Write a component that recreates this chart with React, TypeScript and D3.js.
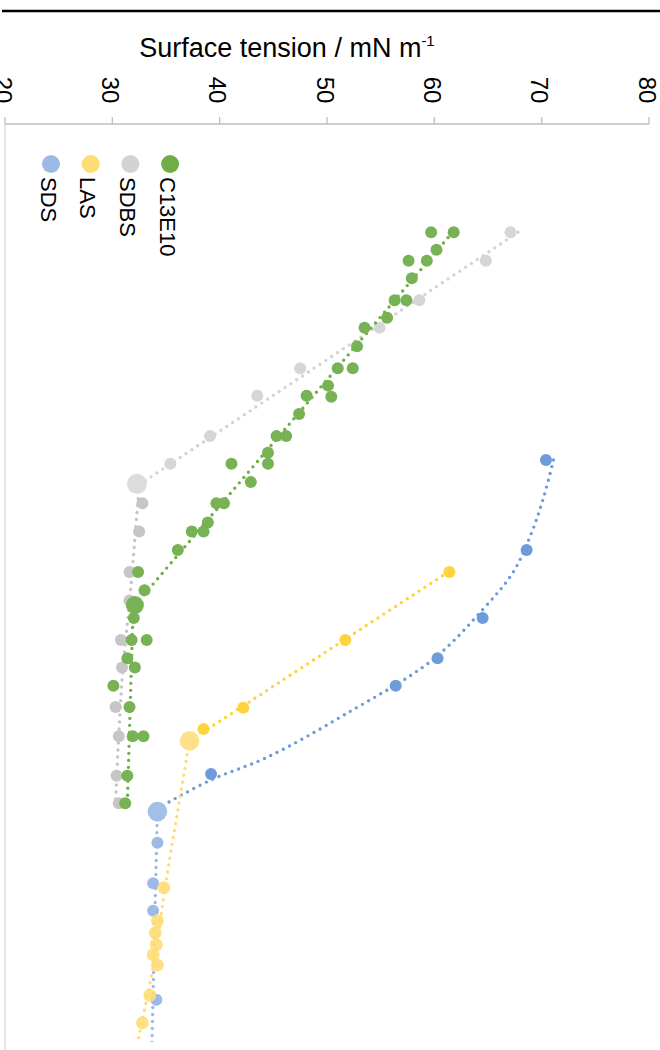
import React from "react";
import * as d3 from "d3";

// Surface tension (mN/m) vs relative log-concentration position (0-100, page downwards)
type P = { u: number; t: number };

const tensionTicks = [20, 30, 40, 50, 60, 70, 80];
const legendNames = ["SDS", "LAS", "SDBS", "C13E10"];
const legendColors = ["#9DBAE6", "#FFDD75", "#D3D3D3", "#70AD47"];

// SDS
const sdsBelow: P[] = [
  { u: 36.6, t: 70.4 }, { u: 46.4, t: 68.6 }, { u: 53.8, t: 64.5 },
  { u: 58.2, t: 60.3 }, { u: 61.2, t: 56.4 }, { u: 70.8, t: 39.2 },
];
const sdsCmc: P[] = [{ u: 74.9, t: 34.2 }];
const sdsAbove: P[] = [
  { u: 78.3, t: 34.2 }, { u: 82.7, t: 33.8 }, { u: 85.7, t: 33.8 }, { u: 95.4, t: 34.1 },
];
const sdsFitBelow: P[] = [
  { u: 36.6, t: 71.1 }, { u: 41.0, t: 70.1 }, { u: 45.0, t: 68.9 }, { u: 48.9, t: 67.3 },
  { u: 52.9, t: 64.5 }, { u: 58.4, t: 59.8 }, { u: 64.3, t: 51.7 }, { u: 69.0, t: 44.4 },
  { u: 71.5, t: 39.1 }, { u: 74.5, t: 34.3 },
];
const sdsFitAbove: P[] = [
  { u: 74.9, t: 34.2 }, { u: 88.9, t: 33.9 }, { u: 99.8, t: 33.7 }, { u: 104, t: 33.6 },
];

// LAS
const lasBelow: P[] = [
  { u: 48.8, t: 61.4 }, { u: 56.2, t: 51.7 }, { u: 63.6, t: 42.2 }, { u: 65.9, t: 38.5 },
];
const lasCmc: P[] = [{ u: 67.2, t: 37.2 }];
const lasAbove: P[] = [
  { u: 83.2, t: 34.8 }, { u: 86.8, t: 34.2 }, { u: 88.1, t: 34.0 }, { u: 89.4, t: 34.1 },
  { u: 90.5, t: 33.8 }, { u: 91.6, t: 34.2 }, { u: 94.9, t: 33.5 }, { u: 97.9, t: 32.8 },
];
const lasFitBelow: P[] = [{ u: 48.8, t: 61.3 }, { u: 67.2, t: 37.2 }];
const lasFitAbove: P[] = [
  { u: 67.2, t: 37.2 }, { u: 74.1, t: 36.2 }, { u: 81.8, t: 35.1 }, { u: 91.8, t: 33.8 },
  { u: 99.8, t: 32.4 }, { u: 104, t: 31.7 },
];

// SDBS
const sdbsBelow: P[] = [
  { u: 11.8, t: 67.1 }, { u: 14.9, t: 64.8 }, { u: 19.2, t: 58.6 }, { u: 22.2, t: 54.9 },
  { u: 26.6, t: 47.5 }, { u: 29.6, t: 43.5 }, { u: 34.0, t: 39.1 }, { u: 37.0, t: 35.4 },
];
const sdbsCmc: P[] = [{ u: 39.2, t: 32.3 }];
const sdbsAbove: P[] = [
  { u: 41.3, t: 32.8 }, { u: 44.4, t: 32.5 }, { u: 48.8, t: 31.6 }, { u: 51.9, t: 31.6 },
  { u: 56.2, t: 30.8 }, { u: 59.2, t: 30.9 }, { u: 63.5, t: 30.3 }, { u: 66.7, t: 30.6 },
  { u: 71.0, t: 30.4 }, { u: 74.0, t: 30.6 },
];
const sdbsFitBelow: P[] = [{ u: 11.8, t: 67.8 }, { u: 39.3, t: 32.5 }];
const sdbsFitAbove: P[] = [
  { u: 39.3, t: 32.5 }, { u: 50.8, t: 31.7 }, { u: 60.6, t: 30.9 }, { u: 74.0, t: 30.3 },
];

// C13E10
const c13Below: P[] = [
  { u: 11.8, t: 59.7 }, { u: 11.8, t: 61.8 }, { u: 13.7, t: 60.2 }, { u: 14.9, t: 57.6 },
  { u: 14.9, t: 59.3 }, { u: 16.8, t: 57.9 }, { u: 19.2, t: 56.3 }, { u: 19.2, t: 57.4 },
  { u: 21.1, t: 55.6 }, { u: 22.2, t: 53.5 }, { u: 24.2, t: 52.8 }, { u: 26.6, t: 51.0 },
  { u: 26.6, t: 52.4 }, { u: 28.5, t: 50.1 }, { u: 29.7, t: 50.4 }, { u: 29.6, t: 48.1 },
  { u: 31.6, t: 47.4 }, { u: 34.0, t: 45.3 }, { u: 34.0, t: 46.2 }, { u: 35.8, t: 44.5 },
  { u: 37.0, t: 44.5 }, { u: 37.0, t: 41.1 }, { u: 39.0, t: 42.9 }, { u: 41.3, t: 39.7 },
  { u: 41.3, t: 40.4 }, { u: 43.4, t: 38.9 }, { u: 44.4, t: 37.4 }, { u: 44.4, t: 38.5 },
  { u: 46.4, t: 36.1 }, { u: 48.8, t: 32.4 }, { u: 50.8, t: 33.0 },
];
const c13Cmc: P[] = [{ u: 52.4, t: 32.1 }];
const c13Above: P[] = [
  { u: 53.8, t: 32.0 }, { u: 56.2, t: 31.8 }, { u: 56.2, t: 33.2 }, { u: 58.2, t: 31.4 },
  { u: 59.2, t: 32.1 }, { u: 61.2, t: 30.1 }, { u: 63.5, t: 31.6 }, { u: 66.7, t: 31.9 },
  { u: 66.7, t: 32.9 }, { u: 71.0, t: 31.4 }, { u: 74.0, t: 31.2 },
];
const c13FitBelow: P[] = [{ u: 11.8, t: 61.7 }, { u: 51.9, t: 32.5 }];
const c13FitAbove: P[] = [{ u: 51.9, t: 32.5 }, { u: 54.0, t: 31.9 }, { u: 74.0, t: 31.4 }];

const W = 660;
const H = 1050;
const plotTop = 124;
const plotBottom = 1042;
const plotLeft = 5;
const plotRight = 649;

export default function App() {
  const x = d3.scaleLinear().domain([20, 80]).range([plotLeft, plotRight]);
  const y = d3.scaleLinear().domain([0, 100]).range([plotTop, plotBottom]);
  const lin = d3.line<P>().x((d) => x(d.t)).y((d) => y(d.u));
  const smooth = d3.line<P>().x((d) => x(d.t)).y((d) => y(d.u)).curve(d3.curveCatmullRom.alpha(0.5));

  const font = "Liberation Sans, Arial, Helvetica, sans-serif";

  const dotted = (d: string | null, color: string, key: string) => (
    <path key={key} d={d || ""} fill="none" stroke={color} strokeWidth={3.4}
      strokeDasharray="0 7" strokeLinecap="round" />
  );
  const pts = (data: P[], color: string, r: number, key: string, op = 1) => (
    <g key={key}>
      {data.map((d, i) => (
        <circle key={i} cx={x(d.t)} cy={y(d.u)} r={r} fill={color} opacity={op} />
      ))}
    </g>
  );

  return (
    <svg width={W} height={H} style={{ position: "absolute", left: 0, top: 0 }}
      fontFamily={font}>
      <rect x={0} y={0} width={W} height={H} fill="#fff" />
      <line x1={2} x2={W} y1={11} y2={11} stroke="#000" strokeWidth={2.5} />

      <text x={287} y={57} fontSize={27} textAnchor="middle" fill="#000">
        Surface tension / mN m
        <tspan fontSize={15} dy={-11}>-1</tspan>
      </text>

      {/* value axis (top) */}
      <line x1={plotLeft} x2={plotRight} y1={plotTop} y2={plotTop} stroke="#BFBFBF" strokeWidth={1.3} />
      {tensionTicks.map((v) => (
        <g key={v}>
          <line x1={x(v)} x2={x(v)} y1={plotTop} y2={plotTop - 7} stroke="#BFBFBF" strokeWidth={1.3} />
          <text transform={`translate(${x(v) - 2},${90}) rotate(90)`} fontSize={24}
            textAnchor="middle" dominantBaseline="central" fill="#000">{v}</text>
        </g>
      ))}
      {/* category axis (left) */}
      <line x1={plotLeft} x2={plotLeft} y1={plotTop} y2={H} stroke="#D9D9D9" strokeWidth={1.3} />

      <defs>
        <clipPath id="plotClip">
          <rect x={plotLeft} y={plotTop} width={W - plotLeft} height={plotBottom - plotTop} />
        </clipPath>
      </defs>

      <g clipPath="url(#plotClip)">
        {/* SDS */}
        {dotted(smooth(sdsFitBelow), "#6E9BD9", "sdsfb")}
        {dotted(lin(sdsFitAbove), "#9DBAE6", "sdsfa")}
        {pts(sdsBelow, "#6E9BD9", 6, "sdsb")}
        {pts(sdsAbove, "#9DBAE6", 6, "sdsa")}
        {pts(sdsCmc, "#A3BFE8", 9.8, "sdsc")}
        {/* LAS */}
        {dotted(lin(lasFitBelow), "#FFD33D", "lasfb")}
        {dotted(smooth(lasFitAbove), "#FFDD75", "lasfa")}
        {pts(lasBelow, "#FFD33D", 6, "lasb")}
        {pts(lasAbove, "#FFDD75", 6.5, "lasa", 0.9)}
        {pts(lasCmc, "#FFE08A", 9.8, "lasc")}
        {/* SDBS */}
        {dotted(lin(sdbsFitBelow), "#D3D3D3", "sdbsfb")}
        {dotted(smooth(sdbsFitAbove), "#C4C4C4", "sdbsfa")}
        {pts(sdbsBelow, "#D6D6D6", 6, "sdbsb")}
        {pts(sdbsAbove, "#C6C6C6", 6, "sdbsa")}
        {pts(sdbsCmc, "#DCDCDC", 10, "sdbsc")}
        {/* C13E10 */}
        {dotted(lin(c13FitBelow), "#70AD47", "c13fb")}
        {dotted(lin(c13FitAbove), "#70AD47", "c13fa")}
        {pts(c13Below, "#77B255", 6, "c13b")}
        {pts(c13Above, "#77B255", 6, "c13a")}
        {pts(c13Cmc, "#77B255", 9, "c13c")}
      </g>

      {/* legend */}
      {legendNames.map((name, i) => {
        const cx = 51 + i * 39.7;
        return (
          <g key={name}>
            <circle cx={cx} cy={164} r={9} fill={legendColors[i]} />
            <text transform={`translate(${cx - 3},${177}) rotate(90)`} fontSize={22}
              dominantBaseline="central" fill="#000">{name}</text>
          </g>
        );
      })}
    </svg>
  );
}
